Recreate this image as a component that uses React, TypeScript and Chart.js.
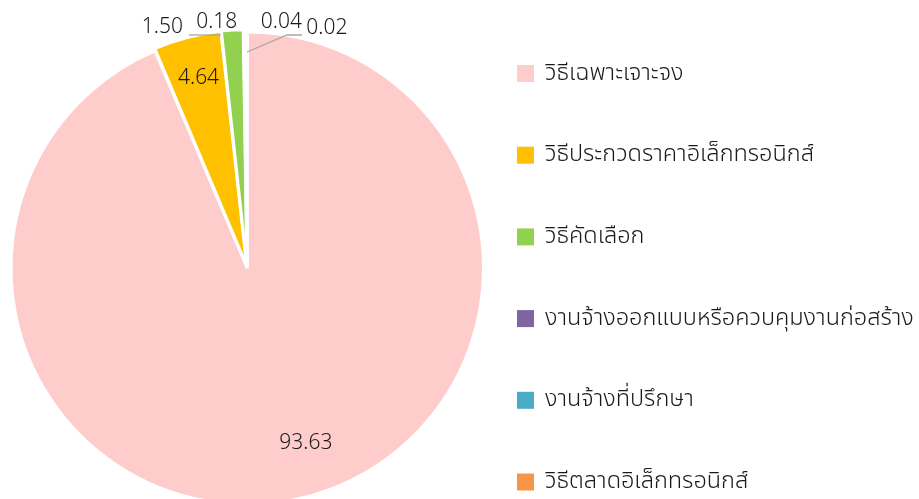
import React, { useEffect, useRef } from "react";
import { Chart, registerables } from "chart.js";

Chart.register(...registerables);

const categories = [
  "วิธีเฉพาะเจาะจง",
  "วิธีประกวดราคาอิเล็กทรอนิกส์",
  "วิธีคัดเลือก",
  "งานจ้างออกแบบหรือควบคุมงานก่อสร้าง",
  "งานจ้างที่ปรึกษา",
  "วิธีตลาดอิเล็กทรอนิกส์",
];
const values = [93.63, 4.64, 1.5, 0.18, 0.04, 0.02];
const valueLabels = ["93.63", "4.64", "1.50", "0.18", "0.04", "0.02"];
const colors = ["#FFCCCC", "#FFC000", "#92D050", "#8064A2", "#4BACC6", "#F79646"];

const FONT = '"Noto Sans", "Noto Sans Thai", Tahoma, sans-serif';

// label placement relative to slice geometry: [extra angle deg, radius fraction, dx, dy]
const labelPlacement: [number, number, number, number][] = [
  [-7, 0.79, 0, 0],
  [0, 0.8, -1, -7],
  [0, 1.0, -70, -5],
  [0, 1.0, -28, -10],
  [0, 1.0, 35, -10],
  [0, 1.0, 80, -4],
];

const labelsPlugin = {
  id: "customLabels",
  afterDraw(chart: any) {
    const ctx = chart.ctx;
    const meta = chart.getDatasetMeta(0);
    ctx.save();
    ctx.font = `300 21px ${FONT}`;
    ctx.fillStyle = "#1a1a1a";
    ctx.textAlign = "center";
    ctx.textBaseline = "middle";
    const arcs = meta.data;
    const cx = arcs[0].x;
    const cy = arcs[0].y;
    const R = arcs[0].outerRadius;
    arcs.forEach((arc: any, i: number) => {
      const [da, rf, dx, dy] = labelPlacement[i];
      const mid = (arc.startAngle + arc.endAngle) / 2 + (da * Math.PI) / 180;
      const x = cx + Math.cos(mid) * R * rf + dx;
      const y = cy + Math.sin(mid) * R * rf + dy;
      ctx.fillText(valueLabels[i], x, y);
    });
    // leader lines
    ctx.strokeStyle = "#A6A6A6";
    ctx.lineWidth = 1.3;
    const top = cy - R;
    ctx.beginPath();
    ctx.moveTo(cx - 58, top + 3);
    ctx.lineTo(cx - 26, top + 3);
    ctx.stroke();
    ctx.beginPath();
    ctx.moveTo(cx, top + 20);
    ctx.lineTo(cx + 40, top + 3);
    ctx.lineTo(cx + 55, top + 3);
    ctx.stroke();
    // legend
    const lx = 517;
    const ly0 = 73;
    const step = 81.7;
    ctx.font = `300 23.5px ${FONT}`;
    categories.forEach((c, i) => {
      const y = ly0 + i * step;
      ctx.fillStyle = colors[i];
      ctx.fillRect(lx, y - 8, 17, 17);
      ctx.fillStyle = "#1a1a1a";
      ctx.textAlign = "left";
      ctx.fillText(c, lx + 28, y);
    });
    ctx.restore();
  },
};

export default function App() {
  const ref = useRef<HTMLCanvasElement | null>(null);
  useEffect(() => {
    if (!ref.current) return;
    const chart = new Chart(ref.current, {
      type: "pie",
      data: {
        labels: categories,
        datasets: [
          {
            data: values,
            backgroundColor: colors,
            borderColor: "#ffffff",
            borderWidth: 3,
            offset: 5,
          },
        ],
      },
      options: {
        responsive: false,
        animation: false,
        layout: { padding: { left: 8, right: 433, top: 28, bottom: 14 } },
        plugins: {
          legend: { display: false },
          tooltip: { enabled: false },
        },
      },
      plugins: [labelsPlugin],
    });
    return () => chart.destroy();
  }, []);
  return (
    <div
      style={{
        position: "fixed",
        left: 0,
        top: 0,
        width: 919,
        height: 499,
        overflow: "hidden",
        background: "#fff",
      }}
    >
      <canvas ref={ref} width={919} height={520} style={{ display: "block" }} />
    </div>
  );
}
